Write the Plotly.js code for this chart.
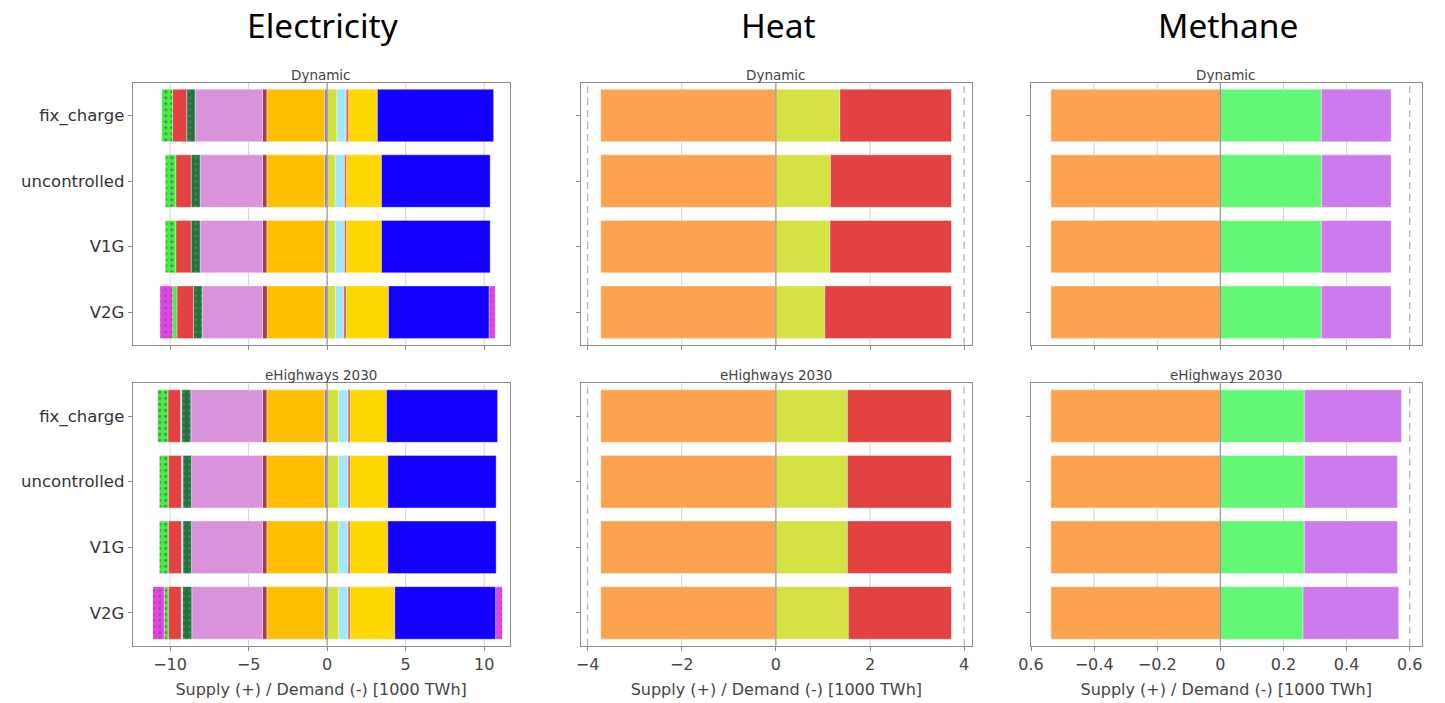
<!DOCTYPE html>
<html>
<head>
<meta charset="utf-8">
<script src="https://cdn.plot.ly/plotly-3.0.1.min.js"></script>
<style>html,body{margin:0;padding:0;background:#fff;}#chart{width:1445px;height:703px;}</style>
</head>
<body>
<div id="chart"></div>
<script>
// ---------------- DATA ----------------
const rows = ['fix_charge', 'uncontrolled', 'V1G', 'V2G'];
const scenarios = ['Dynamic', 'eHighways 2030'];
const carriers = ['Electricity', 'Heat', 'Methane'];
const axisTitle = 'Supply (+) / Demand (-) [1000 TWh]';

// Electricity, Dynamic — demand (negative, stacked outward from 0)
const elDynD1 = [-0.15, -0.15, -0.15, -0.15];
const elDynD2 = [-3.69, -3.69, -3.69, -3.67];
const elDynD3 = [-0.28, -0.28, -0.28, -0.30];
const elDynD4 = [-4.29, -3.97, -3.97, -3.84];
const elDynD5 = [-0.53, -0.57, -0.57, -0.55];
const elDynD6 = [0, 0, 0, 0];
const elDynD7 = [-0.91, -0.98, -0.98, -1.06];
const elDynD8 = [-0.68, -0.66, -0.66, -0.26];
const elDynD9 = [0, 0, 0, -0.81];
// Electricity, Dynamic — supply (positive)
const elDynS1 = [0.62, 0.51, 0.51, 0.53];
const elDynS2 = [0.59, 0.59, 0.59, 0.53];
const elDynS3 = [0.17, 0.15, 0.15, 0.17];
const elDynS4 = [1.82, 2.21, 2.21, 2.68];
const elDynS5 = [7.40, 6.92, 6.92, 6.41];
const elDynS6 = [0, 0, 0, 0.38];

// Electricity, eHighways 2030 — demand
const elEhwD1 = [-0.15, -0.15, -0.15, -0.15];
const elEhwD2 = [-3.69, -3.69, -3.69, -3.69];
const elEhwD3 = [-0.28, -0.28, -0.28, -0.28];
const elEhwD4 = [-4.56, -4.52, -4.52, -4.50];
const elEhwD5 = [-0.58, -0.55, -0.55, -0.59];
const elEhwD6 = [-0.08, -0.08, -0.08, -0.08];
const elEhwD7 = [-0.80, -0.85, -0.85, -0.83];
const elEhwD8 = [-0.65, -0.56, -0.56, -0.26];
const elEhwD9 = [0, 0, 0, -0.72];
// Electricity, eHighways 2030 — supply
const elEhwS1 = [0.74, 0.74, 0.74, 0.74];
const elEhwS2 = [0.59, 0.59, 0.59, 0.59];
const elEhwS3 = [0.15, 0.15, 0.15, 0.15];
const elEhwS4 = [2.30, 2.38, 2.38, 2.83];
const elEhwS5 = [7.07, 6.90, 6.90, 6.43];
const elEhwS6 = [0, 0, 0, 0.41];

// Heat
const htDynD1 = [-3.72, -3.72, -3.72, -3.72];
const htDynS1 = [1.36, 1.16, 1.15, 1.04];
const htDynS2 = [2.37, 2.57, 2.58, 2.69];
const htEhwD1 = [-3.72, -3.72, -3.72, -3.72];
const htEhwS1 = [1.52, 1.52, 1.52, 1.54];
const htEhwS2 = [2.21, 2.21, 2.21, 2.19];

// Methane
const mtDynD1 = [-0.537, -0.537, -0.537, -0.537];
const mtDynS1 = [0.320, 0.321, 0.320, 0.320];
const mtDynS2 = [0.221, 0.220, 0.221, 0.221];
const mtEhwD1 = [-0.537, -0.537, -0.537, -0.537];
const mtEhwS1 = [0.266, 0.266, 0.266, 0.262];
const mtEhwS2 = [0.308, 0.295, 0.295, 0.303];

// Tick labels
const elTicks = [-10, -5, 0, 5, 10];
const htTicks = [-4, -2, 0, 2, 4];
const mtTicks = [-0.6, -0.4, -0.2, 0, 0.2, 0.4, 0.6];
const mtTickText = ['0.6', '\u22120.4', '\u22120.2', '0', '0.2', '0.4', '0.6'];
const htRefLines = [-4, 4];
const mtRefLines = [0.6];

// ---------------- STYLES ----------------
const elStyles = {
  D1: {c: '#7060e8'}, D2: {c: '#ffbe00'}, D3: {c: '#a0404a'}, D4: {c: '#da93da'},
  D5: {c: '#17783a', dots: true}, D6: {c: '#9ee8ff'}, D7: {c: '#e24242'},
  D8: {c: '#3cf53c', dots: true}, D9: {c: '#f03cf0', dots: true},
  S1: {c: '#d4e03c'}, S2: {c: '#a0e8ff'}, S3: {c: '#f86040'}, S4: {c: '#ffd700'},
  S5: {c: '#1400ff'}, S6: {c: '#f03cf0', dots: true}
};
const htStyles = {D1: {c: '#fda350'}, S1: {c: '#d4e244'}, S2: {c: '#e24242'}};
const mtStyles = {D1: {c: '#fda350'}, S1: {c: '#62f875'}, S2: {c: '#cc7aee'}};

const panelSeries = [
  [{D1: elDynD1, D2: elDynD2, D3: elDynD3, D4: elDynD4, D5: elDynD5, D6: elDynD6, D7: elDynD7, D8: elDynD8, D9: elDynD9,
    S1: elDynS1, S2: elDynS2, S3: elDynS3, S4: elDynS4, S5: elDynS5, S6: elDynS6},
   {D1: htDynD1, S1: htDynS1, S2: htDynS2},
   {D1: mtDynD1, S1: mtDynS1, S2: mtDynS2}],
  [{D1: elEhwD1, D2: elEhwD2, D3: elEhwD3, D4: elEhwD4, D5: elEhwD5, D6: elEhwD6, D7: elEhwD7, D8: elEhwD8, D9: elEhwD9,
    S1: elEhwS1, S2: elEhwS2, S3: elEhwS3, S4: elEhwS4, S5: elEhwS5, S6: elEhwS6},
   {D1: htEhwD1, S1: htEhwS1, S2: htEhwS2},
   {D1: mtEhwD1, S1: mtEhwS1, S2: mtEhwS2}]
];
const panelStyles = [elStyles, htStyles, mtStyles];
const panelTicks = [elTicks, htTicks, mtTicks];
const panelRefs = [[], htRefLines, mtRefLines];

// ---------------- LAYOUT GEOMETRY ----------------
const W = 1445, H = 703;
const colPx = [[132.7, 509.5], [581, 971.7], [1030.7, 1421.7]];
const rowPx = [[82.7, 345], [383.3, 645.7]];
const xRanges = [[-12.38, 11.61], [-4.14, 4.16], [-0.601, 0.638]];

const FONT = 'DejaVu Sans, Verdana, sans-serif';
const traces = [];
const layout = {
  width: W, height: H,
  margin: {l: 0, r: 0, t: 0, b: 0},
  paper_bgcolor: '#ffffff', plot_bgcolor: '#ffffff',
  barmode: 'relative', bargap: 0.2,
  showlegend: false,
  font: {family: FONT, color: '#444'},
  annotations: [], shapes: []
};

for (let r = 0; r < 2; r++) {
  for (let c = 0; c < 3; c++) {
    const k = r * 3 + c + 1;
    const xa = 'x' + k, ya = 'y' + k;
    const series = panelSeries[r][c];
    const styles = panelStyles[c];
    Object.keys(series).forEach(key => {
      const st = styles[key];
      const vals = series[key].map(v => (v === 0 ? null : v));
      const marker = {color: st.c, line: {width: 0.8, color: 'rgba(255,255,255,0.45)'}};
      if (st.dots) {
        marker.pattern = {shape: '.', fgcolor: '#6e6e6e', bgcolor: st.c, fillmode: 'replace', size: 6, solidity: 0.2};
      }
      traces.push({
        type: 'bar', orientation: 'h', name: key,
        x: vals, y: rows, xaxis: xa, yaxis: ya,
        marker: marker, hoverinfo: 'x+y'
      });
    });

    const xKey = 'xaxis' + (k === 1 ? '' : k);
    const yKey = 'yaxis' + (k === 1 ? '' : k);
    const xaxis = {
      domain: [colPx[c][0] / W, colPx[c][1] / W],
      anchor: ya, range: xRanges[c], autorange: false,
      showgrid: false, zeroline: false,
      showline: true, linecolor: '#8c8c8c', linewidth: 1, mirror: true,
      ticks: 'outside', ticklen: 4, tickcolor: '#8c8c8c',
      tickfont: {family: FONT, size: 16, color: '#444'},
      showticklabels: r === 1,
      tickmode: 'array', tickvals: panelTicks[c],
      fixedrange: true
    };
    if (c === 2) { xaxis.ticktext = mtTickText; }
    if (r === 1) {
      xaxis.title = {text: axisTitle, font: {family: FONT, size: 16, color: '#444'}, standoff: 10};
    }
    layout[xKey] = xaxis;
    layout[yKey] = {
      domain: [1 - rowPx[r][1] / H, 1 - rowPx[r][0] / H],
      anchor: xa, type: 'category',
      categoryorder: 'array', categoryarray: rows,
      range: [3.5, -0.5], autorange: false,
      showgrid: false, zeroline: false,
      showline: true, linecolor: '#8c8c8c', linewidth: 1, mirror: true,
      ticks: 'outside', ticklen: 4, tickcolor: '#8c8c8c',
      showticklabels: c === 0,
      tickfont: {family: FONT, size: 16.5, color: '#333'},
      fixedrange: true
    };

    layout.annotations.push({
      text: scenarios[r], xref: 'paper', yref: 'paper',
      x: (colPx[c][0] + colPx[c][1]) / 2 / W, y: 1 - rowPx[r][0] / H,
      xanchor: 'center', yanchor: 'bottom', showarrow: false, yshift: -2,
      font: {family: FONT, size: 13.5, color: '#444'}
    });

    // vertical gridlines (behind bars) at tick values, dashed at reference values
    const span = xRanges[c][1] - xRanges[c][0];
    panelTicks[c].forEach(v => {
      if (v === 0) return;
      if (Math.abs(v - xRanges[c][0]) < 0.01 * span || Math.abs(v - xRanges[c][1]) < 0.01 * span) return;
      const dashed = panelRefs[c].indexOf(v) >= 0;
      layout.shapes.push({
        type: 'line', xref: xa, yref: ya + ' domain', x0: v, x1: v, y0: 0, y1: 1,
        line: dashed ? {color: '#b4b4b4', width: 1.3, dash: '7px,5px'} : {color: '#d4d4d4', width: 1},
        layer: 'below'
      });
    });
    // zero line drawn over the bars
    layout.shapes.push({
      type: 'line', xref: xa, yref: ya + ' domain', x0: 0, x1: 0, y0: 0, y1: 1,
      line: {color: '#9a9a9a', width: 1.3}, layer: 'above'
    });
  }
}

for (let c = 0; c < 3; c++) {
  layout.annotations.push({
    text: carriers[c], xref: 'paper', yref: 'paper',
    x: (colPx[c][0] + colPx[c][1]) / 2 / W + 0.0015, y: 1 - 25 / H,
    xanchor: 'center', yanchor: 'middle', showarrow: false,
    font: {family: 'Noto Sans, Open Sans, sans-serif', size: 33.5, color: '#000'}
  });
}

Plotly.newPlot('chart', traces, layout, {displayModeBar: false, staticPlot: true});
</script>
</body>
</html>
